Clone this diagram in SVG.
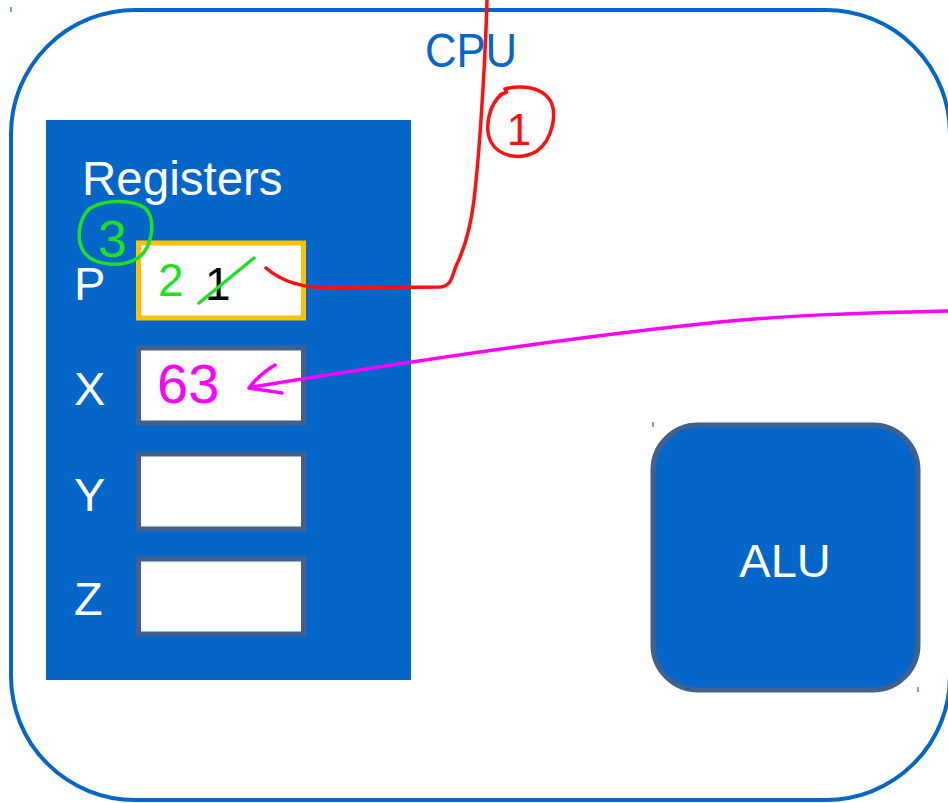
<svg xmlns="http://www.w3.org/2000/svg" width="948" height="803" viewBox="0 0 948 803">
  <style>
    .cpu { fill: #ffffff; stroke: #0566C9; stroke-width: 4; }
    .panel { fill: #0566C9; }
    .reg { fill: #ffffff; stroke: #41608E; stroke-width: 5; }
    .reg-active { fill: #ffffff; stroke: #FFC000; stroke-width: 5; }
    .alu { fill: #0566C9; stroke: #41608E; stroke-width: 5; }
    .lbl { font-family: "Liberation Sans", Arial, sans-serif; fill: #ffffff; }
    .title { font-family: "Liberation Sans", Arial, sans-serif; fill: #0566C9; }
    .ink { fill: none; stroke-width: 3.5; stroke-linecap: round; stroke-linejoin: round; }
    .red { stroke: #FF1010; }
    .green { stroke: #1EE01E; }
    .magenta { stroke: #FF00FF; }
    .hand { font-family: "Liberation Sans", Arial, sans-serif; }
    .tick { stroke-width: 1.2; }
  </style>

  <!-- CPU enclosure -->
  <g id="cpu">
    <rect class="cpu" x="11" y="10" width="939" height="790" rx="124" ry="124"/>
    <text class="title" x="425" y="67" font-size="48" textLength="92" lengthAdjust="spacingAndGlyphs">CPU</text>
    <line class="tick" x1="11" y1="7" x2="11" y2="12" stroke="#0566C9"/>
  </g>

  <!-- Register file -->
  <g id="registers">
    <rect class="panel" x="46" y="120" width="365" height="560"/>
    <text class="lbl" x="82" y="195" font-size="47.5">Registers</text>
  </g>

  <g id="reg-p">
    <rect class="reg-active" x="138.5" y="243" width="165" height="75"/>
    <text class="lbl" x="74" y="300" font-size="47">P</text>
    <text class="hand" x="205" y="300" font-size="46" fill="#000000">1</text>
  </g>

  <g id="reg-x">
    <rect class="reg" x="138.5" y="348" width="165" height="75"/>
    <text class="lbl" x="74" y="405" font-size="47">X</text>
  </g>

  <g id="reg-y">
    <rect class="reg" x="138.5" y="454" width="165" height="75"/>
    <text class="lbl" x="74" y="511" font-size="47">Y</text>
  </g>

  <g id="reg-z">
    <rect class="reg" x="138.5" y="559" width="165" height="75"/>
    <text class="lbl" x="74" y="615" font-size="47">Z</text>
  </g>

  <!-- Arithmetic logic unit -->
  <g id="alu">
    <rect class="alu" x="653" y="425" width="265" height="265" rx="45" ry="45"/>
    <text class="lbl" x="785" y="577" font-size="47" text-anchor="middle">ALU</text>
    <line class="tick" x1="653" y1="422" x2="653" y2="427" stroke="#41608E"/>
    <line class="tick" x1="918" y1="687" x2="918" y2="692" stroke="#41608E"/>
  </g>

  <!-- Connectors -->
  <g id="connectors">
    <!-- fetch path into P -->
    <path class="ink red" d="M487,0 C486,40 481,140 474,200 C470,232 464,250 456,266 C452,276 452,286 440,287 L330,288 C305,288 282,282 266,268"/>
    <!-- incoming value into X -->
    <path class="ink magenta" d="M948,311 C860,313 790,315 720,322 C600,334 430,358 252,387"/>
    <path class="ink magenta" d="M275,365 C265,371 255,380 249,388 C260,390 271,391 282,393"/>
  </g>

  <!-- Step annotations -->
  <g id="annotations">
    <!-- step 1 -->
    <path class="ink red" d="M500,95 C507,91 508,94 505,89 C520,85 540,86 550,100 C558,114 552,140 537,151 C522,160 500,158 491,142 C484,128 489,104 502,94"/>
    <text class="hand" x="519" y="145" font-size="44" fill="#FF1010" text-anchor="middle">1</text>
    <!-- step 3 -->
    <path class="ink green" d="M88,210 C100,200 130,198 145,208 C157,220 152,248 138,258 C122,268 94,266 84,252 C76,240 78,220 90,208"/>
    <text class="hand" x="98" y="257" font-size="52" fill="#1EE01E">3</text>
    <!-- new P value -->
    <text class="hand" x="158" y="296" font-size="46" fill="#1EE01E">2</text>
    <path class="ink green" d="M199,303 L254,258"/>
    <!-- loaded X value -->
    <text class="hand" x="157" y="403" font-size="56" fill="#FF00FF">63</text>
  </g>
</svg>
